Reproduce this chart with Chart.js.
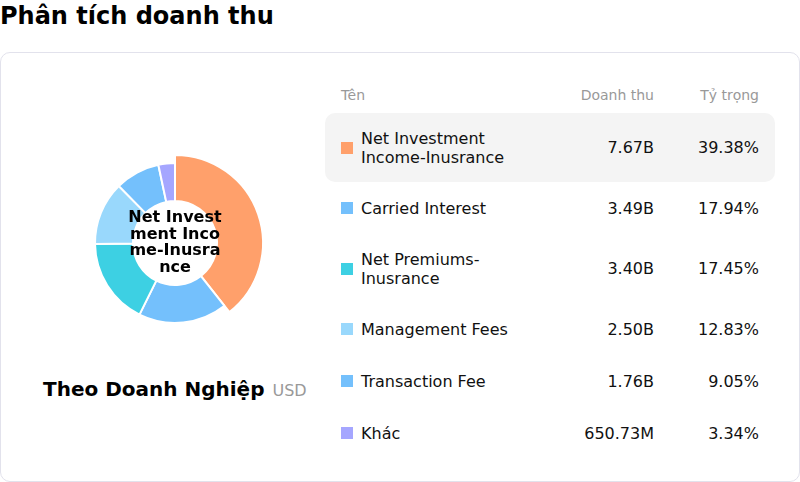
<!DOCTYPE html>
<html>
<head>
<meta charset="utf-8">
<script src="https://cdn.jsdelivr.net/npm/chart.js@4.4.1/dist/chart.umd.min.js"></script>
<style>
  body { margin: 0; width: 800px; height: 482px; background: #fff; font-family: "DejaVu Sans", sans-serif; color: #111; position: relative; overflow: hidden; }
  h1 { position: absolute; left: 0; top: 0; margin: 0; font-size: 24px; line-height: 32px; font-weight: bold; color: #000; }
  .card { position: absolute; left: 0; top: 52px; width: 798px; height: 428px; border: 1px solid #e2e2ec; border-radius: 10px; }
  #donutWrap { position: absolute; left: 75px; top: 143px; width: 200px; height: 200px; }
  .sub { position: absolute; left: 43px; top: 376px; white-space: nowrap; line-height: 26px; }
  .sub b { font-size: 20px; color: #000; }
  .sub span { font-size: 16px; color: #999; margin-left: 8px; }
  .table { position: absolute; left: 325px; top: 85px; width: 450px; }
  .row { display: flex; align-items: center; box-sizing: border-box; min-height: 52px; padding: 15.5px 16px; line-height: 19px; font-size: 16px; border-radius: 10px; }
  .row.head { min-height: 0; padding: 0 16px; height: 20px; font-size: 14px; color: #999; margin-bottom: 8px; }
  .row.active { background: #f4f4f4; }
  .sw { width: 12px; height: 12px; margin-right: 8px; flex: none; }
  .name { width: 165px; flex: none; }
  .val { width: 128px; text-align: right; flex: none; }
  .pct { width: 105px; text-align: right; flex: none; }
</style>
</head>
<body>
<h1>Phân tích doanh thu</h1>
<div class="card"></div>
<div id="donutWrap"><canvas id="donut" width="200" height="200"></canvas></div>
<div class="sub"><b>Theo Doanh Nghiệp</b><span>USD</span></div>
<div class="table" id="table"></div>
<script>
// data
var categories = ['Net Investment Income-Inusrance', 'Carried Interest', 'Net Premiums-Inusrance', 'Management Fees', 'Transaction Fee', 'Khác'];
var revenueLabels = ['7.67B', '3.49B', '3.40B', '2.50B', '1.76B', '650.73M'];
var shares = [39.38, 17.94, 17.45, 12.83, 9.05, 3.34];
var colors = ['#FFA06B', '#74C0FC', '#3DD0E3', '#99D8FC', '#74C0FC', '#A5A6FF'];
var activeIndex = 0;

// table on the right
var table = document.getElementById('table');
var head = document.createElement('div');
head.className = 'row head';
head.innerHTML = '<div class="name" style="width:185px">Tên</div><div class="val">Doanh thu</div><div class="pct">Tỷ trọng</div>';
table.appendChild(head);
for (var i = 0; i < categories.length; i++) {
  var row = document.createElement('div');
  row.className = 'row' + (i == activeIndex ? ' active' : '');
  row.innerHTML = '<div class="sw" style="background:' + colors[i] + '"></div>'
    + '<div class="name">' + categories[i] + '</div>'
    + '<div class="val">' + revenueLabels[i] + '</div>'
    + '<div class="pct">' + shares[i].toFixed(2) + '%</div>';
  table.appendChild(row);
}

// enlarge the active slice and write its name in the hole
var centerText = {
  id: 'centerText',
  afterDatasetUpdate: function(chart) {
    var arc = chart.getDatasetMeta(0).data[activeIndex];
    if (arc) arc.outerRadius = arc.outerRadius + 8;
  },
  afterDraw: function(chart) {
    var ctx = chart.ctx;
    var a = chart.getDatasetMeta(0).data[0];
    var text = categories[activeIndex];
    ctx.save();
    ctx.font = 'bold 16px "DejaVu Sans"';
    ctx.fillStyle = '#000';
    ctx.textAlign = 'center';
    ctx.textBaseline = 'middle';
    // break by characters, like the original
    var lines = [], cur = '';
    for (var k = 0; k < text.length; k++) {
      if (ctx.measureText(cur + text[k]).width > 96 && cur) { lines.push(cur); cur = ''; }
      cur += text[k];
    }
    lines.push(cur);
    var lh = 16.5;
    var y0 = a.y - (lines.length - 1) * lh / 2;
    for (var k = 0; k < lines.length; k++) ctx.fillText(lines[k], a.x, y0 + k * lh);
    ctx.restore();
  }
};

new Chart(document.getElementById('donut'), {
  type: 'doughnut',
  data: {
    labels: categories,
    datasets: [{
      data: shares,
      backgroundColor: colors,
      borderColor: '#fff',
      borderWidth: 2
    }]
  },
  options: {
    responsive: false,
    animation: false,
    radius: 80,
    cutout: 52,
    layout: { padding: 0 },
    plugins: { legend: { display: false }, tooltip: { enabled: false } },
    events: []
  },
  plugins: [centerText]
});
</script>
</body>
</html>
